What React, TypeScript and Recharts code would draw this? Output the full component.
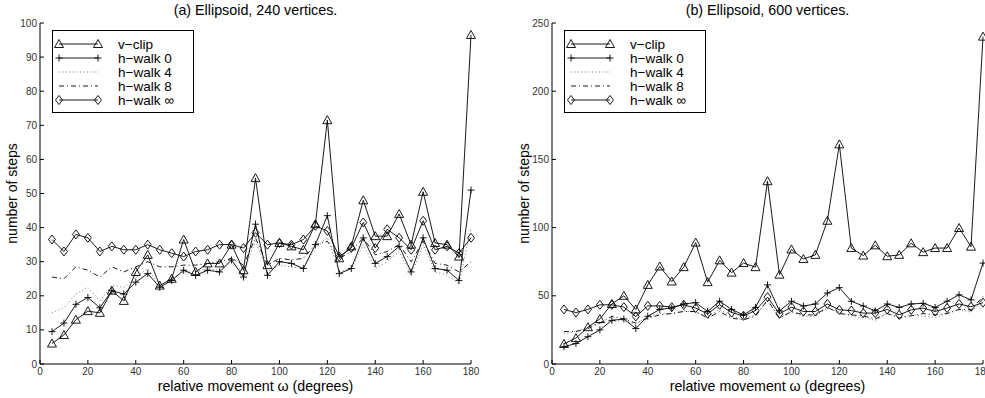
import React from 'react';
import { LineChart, Line, XAxis, YAxis, Label } from 'recharts';

const FONT = '"Liberation Sans", Arial, Helvetica, sans-serif';

const angles = [5, 10, 15, 20, 25, 30, 35, 40, 45, 50, 55, 60, 65, 70, 75, 80, 85, 90, 95, 100, 105, 110, 115, 120, 125, 130, 135, 140, 145, 150, 155, 160, 165, 170, 175, 180];
const xTicks = [0, 20, 40, 60, 80, 100, 120, 140, 160, 180];
const yTicksA = [0, 10, 20, 30, 40, 50, 60, 70, 80, 90, 100];
const yTicksB = [0, 50, 100, 150, 200, 250];

const seriesNames = ['v\u2212clip', 'h\u2212walk 0', 'h\u2212walk 4', 'h\u2212walk 8', 'h\u2212walk \u221E'];

// (a) Ellipsoid, 240 vertices
const vclipA = [6, 8.5, 13, 15.5, 15, 21.5, 18.5, 27, 32, 23, 25, 36.5, 27, 29.5, 29.5, 35, 27.5, 54.5, 29, 35.5, 34.5, 33.5, 41, 71.5, 31, 34.5, 48, 37.5, 37.5, 44, 35, 50.5, 35.5, 35, 31.5, 96.5];
const hwalk0A = [9.5, 12, 17.5, 19.5, 16.5, 21.5, 20.5, 24, 26.5, 22.5, 24.5, 27.5, 26, 27.5, 27, 30.5, 25.5, 41, 26, 30, 29.5, 28, 35, 43.5, 26.5, 28, 37, 29.5, 31.5, 34.5, 27, 37, 28, 27.5, 24.5, 51];
const hwalk4A = [15, 16.5, 20.5, 22.5, 18.5, 23, 22.5, 25.5, 28, 23, 25, 27, 27, 28, 27.5, 30, 27, 36, 27, 29, 28.5, 28, 34, 37, 27, 28, 35, 28, 30, 33, 26, 35, 27, 26, 23.5, 40];
const hwalk8A = [25.5, 25, 28.5, 27.5, 25.5, 28.5, 27, 28.5, 30, 28.5, 28.5, 29, 29, 29.5, 30, 31, 29, 37, 29, 31, 30.5, 31, 35, 36, 31, 33, 37, 32, 33, 35, 30, 36, 29.5, 29, 27, 30];
const hwalkInfA = [36.5, 33, 38, 37, 33, 34.5, 33.5, 33.5, 35, 33.5, 32.5, 31.5, 33, 33.5, 35, 35, 34, 38.5, 35, 35.5, 35, 36.5, 40.5, 39, 31.5, 34, 41.5, 34, 39.5, 37, 33.5, 42, 33.5, 34.5, 32.5, 37];

// (b) Ellipsoid, 600 vertices
const vclipB = [14.7, 19, 27, 33, 44, 50, 40, 58, 71.5, 60.5, 71, 89, 60, 76, 67, 74, 71, 134, 65.5, 84, 77, 80, 105, 161, 85, 79.5, 87, 79, 80, 88.5, 82, 85, 85, 99.7, 86, 240];
const hwalk0B = [12.7, 15, 20, 25, 32, 33, 26, 35, 40, 41, 44, 45, 38.5, 46, 40, 36, 41.5, 58, 39, 46, 42.5, 44, 52, 56, 46, 42.5, 39, 44, 41.5, 44, 44.5, 41.5, 46, 50.7, 47, 74];
const hwalk4B = [22, 24, 27, 30, 31, 32, 29, 35, 37, 37, 39, 38, 35, 40, 35, 33, 36, 46, 34, 38, 35, 35, 41, 38, 35, 34, 32, 37, 34, 36, 35, 34, 37, 40, 38, 47];
const hwalk8B = [23.8, 23.8, 26, 30, 35, 33, 30, 33.6, 36, 37, 38.5, 38.5, 33.6, 38.5, 33.6, 32.4, 35, 47, 33.6, 38.5, 36, 36, 41.7, 37, 36, 35.3, 33, 37, 33.6, 35.3, 37, 36, 37, 40, 39.7, 49.5];
const hwalkInfB = [40, 37.7, 40, 43.4, 43.4, 41.7, 34.8, 42.6, 42.6, 41.7, 43.4, 41, 36.8, 43.4, 37.7, 35.3, 39.2, 49, 36.8, 41.7, 38.5, 38.5, 44, 39.7, 39.2, 37.3, 37.3, 40, 36, 39.7, 41, 38.5, 41, 44, 42, 45];

function buildRows(v: number[], h0: number[], h4: number[], h8: number[], hi: number[]) {
  return angles.map((a, i) => ({ a, vclip: v[i], h0: h0[i], h4: h4[i], h8: h8[i], hinf: hi[i] }));
}

const dataA = buildRows(vclipA, hwalk0A, hwalk4A, hwalk8A, hwalkInfA);
const dataB = buildRows(vclipB, hwalk0B, hwalk4B, hwalk8B, hwalkInfB);

const TriDot = (props: any) => {
  const { cx, cy, index } = props;
  if (cx == null || cy == null) return <g key={`t${index}`} />;
  return (
    <path key={`t${index}`} d={`M${cx},${cy - 4.5} L${cx + 4.5},${cy + 3.5} L${cx - 4.5},${cy + 3.5} Z`} fill="none" stroke="#000" strokeWidth={0.9} />
  );
};
const PlusDot = (props: any) => {
  const { cx, cy, index } = props;
  if (cx == null || cy == null) return <g key={`p${index}`} />;
  return (
    <path key={`p${index}`} d={`M${cx - 3.5},${cy} H${cx + 3.5} M${cx},${cy - 3.5} V${cy + 3.5}`} fill="none" stroke="#000" strokeWidth={0.9} />
  );
};
const DiaDot = (props: any) => {
  const { cx, cy, index } = props;
  if (cx == null || cy == null) return <g key={`d${index}`} />;
  return (
    <path key={`d${index}`} d={`M${cx},${cy - 4.5} L${cx + 3.5},${cy} L${cx},${cy + 4.5} L${cx - 3.5},${cy} Z`} fill="none" stroke="#000" strokeWidth={0.9} />
  );
};

const LegendBox = ({ left }: { left: number }) => {
  const rows = [14, 28, 42, 56, 70];
  return (
    <div style={{ position: 'absolute', left, top: 30, width: 142, height: 83, boxSizing: 'border-box', border: '1px solid #000', background: '#fff' }}>
      <svg width={140} height={81} style={{ position: 'absolute', left: 0, top: 0 }}>
        <line x1={6} x2={45} y1={rows[0] - 1} y2={rows[0] - 1} stroke="#000" strokeWidth={0.9} />
        <TriDot cx={6} cy={rows[0] - 1} index={0} />
        <TriDot cx={45} cy={rows[0] - 1} index={1} />
        <line x1={6} x2={45} y1={rows[1] - 1} y2={rows[1] - 1} stroke="#000" strokeWidth={0.9} />
        <PlusDot cx={6} cy={rows[1] - 1} index={0} />
        <PlusDot cx={45} cy={rows[1] - 1} index={1} />
        <line x1={6} x2={45} y1={rows[2] - 1} y2={rows[2] - 1} stroke="#666" strokeWidth={0.9} strokeDasharray="1 2.5" />
        <line x1={6} x2={45} y1={rows[3] - 1} y2={rows[3] - 1} stroke="#000" strokeWidth={0.9} strokeDasharray="5 3 1 3" />
        <line x1={6} x2={45} y1={rows[4] - 1} y2={rows[4] - 1} stroke="#000" strokeWidth={0.9} />
        <DiaDot cx={6} cy={rows[4] - 1} index={0} />
        <DiaDot cx={45} cy={rows[4] - 1} index={1} />
        {seriesNames.map((n, i) => (
          <text key={n} x={65} y={rows[i] + 4} fontSize={13.5} fontFamily={FONT} fill="#000">{n}</text>
        ))}
      </svg>
    </div>
  );
};

type PanelProps = {
  data: any[];
  left: number;
  width: number;
  margin: { top: number; right: number; bottom: number; left: number };
  yMax: number;
  yTicks: number[];
  title: string;
  titleCenter: number;
  legendLeft: number;
};

const tickStyle = { fontSize: 10, fontFamily: FONT, fill: '#333' };

const Panel = ({ data, left, width, margin, yMax, yTicks, title, titleCenter, legendLeft }: PanelProps) => (
  <>
    <div style={{ position: 'absolute', left, top: 0 }}>
      <LineChart width={width} height={398} data={data} margin={margin}>
        <XAxis dataKey="a" type="number" domain={[0, 180]} ticks={xTicks} tickSize={-4} tickMargin={8}
          tick={tickStyle} axisLine={{ stroke: '#000' }} tickLine={{ stroke: '#000' }} height={30} interval={0}>
          <Label value={'relative movement \u03C9 (degrees)'} position="insideBottom" offset={3} style={{ fontSize: 14.2, fontFamily: FONT, fill: '#000' }} />
        </XAxis>
        <XAxis xAxisId="top" orientation="top" dataKey="a" type="number" domain={[0, 180]} ticks={xTicks} tickSize={-4}
          tickFormatter={() => ''} axisLine={{ stroke: '#000' }} tickLine={{ stroke: '#000' }} height={0} interval={0} />
        <YAxis type="number" domain={[0, yMax]} ticks={yTicks} tickSize={-4} tickMargin={7} width={30}
          tick={tickStyle} axisLine={{ stroke: '#000' }} tickLine={{ stroke: '#000' }} interval={0}>
          <Label value="number of steps" angle={-90} position="insideLeft" offset={2} style={{ fontSize: 14, fontFamily: FONT, fill: '#000', textAnchor: 'middle' }} />
        </YAxis>
        <YAxis yAxisId="right" orientation="right" type="number" domain={[0, yMax]} ticks={yTicks} tickSize={-4} width={0}
          tickFormatter={() => ''} axisLine={{ stroke: '#000' }} tickLine={{ stroke: '#000' }} interval={0} />
        <Line dataKey="h4" stroke="#666" strokeWidth={0.9} strokeDasharray="1 2.5" dot={false} isAnimationActive={false} />
        <Line dataKey="h8" stroke="#000" strokeWidth={0.9} strokeDasharray="5 3 1 3" dot={false} isAnimationActive={false} />
        <Line dataKey="h0" stroke="#000" strokeWidth={0.9} dot={PlusDot} activeDot={false} isAnimationActive={false} />
        <Line dataKey="hinf" stroke="#000" strokeWidth={0.9} dot={DiaDot} activeDot={false} isAnimationActive={false} />
        <Line dataKey="vclip" stroke="#000" strokeWidth={0.9} dot={TriDot} activeDot={false} isAnimationActive={false} />
      </LineChart>
    </div>
    <div style={{ position: 'absolute', left: titleCenter - 150, width: 300, top: 2, textAlign: 'center', fontFamily: FONT, fontSize: 14.3, lineHeight: '16px', color: '#000' }}>
      {title}
    </div>
    <LegendBox left={legendLeft} />
  </>
);

export default function App() {
  return (
    <div style={{ position: 'absolute', left: 0, top: 0, width: 985, height: 398, overflow: 'hidden', background: '#fff' }}>
      <Panel data={dataA} left={0} width={490} margin={{ top: 23, right: 19, bottom: 4, left: 10 }}
        yMax={100} yTicks={yTicksA} title="(a) Ellipsoid, 240 vertices." titleCenter={255.5} legendLeft={52} />
      <Panel data={dataB} left={490} width={495} margin={{ top: 23, right: 2, bottom: 4, left: 32 }}
        yMax={250} yTicks={yTicksB} title="(b) Ellipsoid, 600 vertices." titleCenter={767.5} legendLeft={564} />
    </div>
  );
}
